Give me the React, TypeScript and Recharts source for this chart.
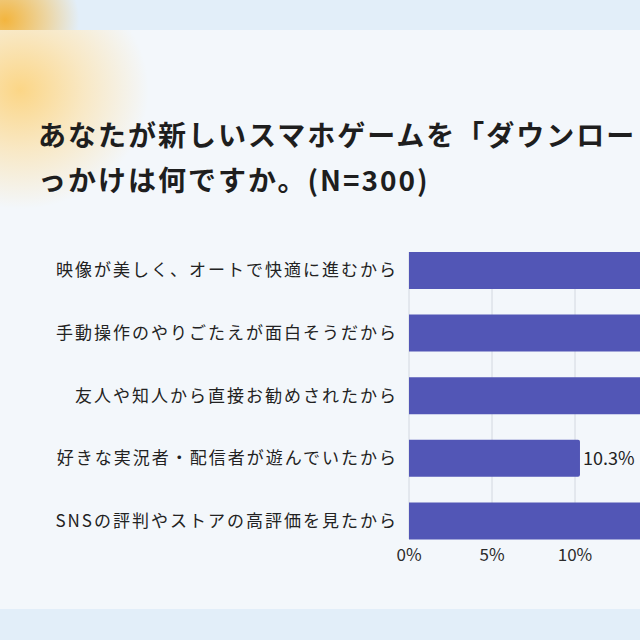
import { Bar, BarChart, CartesianGrid, LabelList, XAxis, YAxis } from 'recharts';

const categories = [
	'映像が美しく、オートで快適に進むから',
	'手動操作のやりごたえが面白そうだから',
	'友人や知人から直接お勧めされたから',
	'好きな実況者・配信者が遊んでいたから',
	'SNSの評判やストアの高評価を見たから',
];

// only the 10.3% label is visible in the picture, the rest run off the right edge
const shares = [34.7, 26.0, 19.3, 10.3, 16.3];

const xTicks = [0, 5, 10, 15, 20, 25, 30, 35, 40];

const TITLE_LINE_1 = 'あなたが新しいスマホゲームを「ダウンロードしよう」と思ったき';
const TITLE_LINE_2 = 'っかけは何ですか。(N=300)';

const FONT = '"Noto Sans CJK JP", "Noto Sans", sans-serif';

const data = categories.map((name, i) => ({ name, value: shares[i] }));

const XTick = ({ x, y, payload }: any) => (
	<text
		x={x}
		y={y + 9}
		textAnchor='middle'
		fill='#2b2b2b'
		fontSize={17}
		fontFamily={FONT}
	>
		{`${payload.value}%`}
	</text>
);

const App = () => {
	return (
		<div
			style={{
				position: 'fixed',
				left: 0,
				top: 0,
				width: 640,
				height: 640,
				overflow: 'hidden',
				background: '#e2eef9',
				fontFamily: FONT,
			}}
		>
			{/* orange glow in the top band */}
			<div
				style={{
					position: 'absolute',
					left: -70,
					top: -50,
					width: 150,
					height: 140,
					background:
						'radial-gradient(ellipse at center, rgba(244,178,52,0.95) 0%, rgba(246,190,80,0.5) 40%, rgba(246,200,100,0) 70%)',
				}}
			/>
			{/* card */}
			<div
				style={{
					position: 'absolute',
					left: 0,
					top: 30,
					width: 640,
					height: 579,
					background: '#f3f7fb',
					overflow: 'hidden',
				}}
			>
				<div
					style={{
						position: 'absolute',
						left: -110,
						top: -60,
						width: 260,
						height: 240,
						background:
							'radial-gradient(ellipse at center, rgba(252,212,128,0.95) 0%, rgba(252,222,160,0.6) 35%, rgba(250,236,210,0) 70%)',
					}}
				/>
			</div>
			<div
				style={{
					position: 'absolute',
					left: 38,
					top: 112,
					fontSize: 28,
					fontWeight: 700,
					letterSpacing: 2,
					lineHeight: '45px',
					color: '#1e1e1e',
					whiteSpace: 'nowrap',
				}}
			>
				<div>{TITLE_LINE_1}</div>
				<div>{TITLE_LINE_2}</div>
			</div>
			<div style={{ position: 'absolute', left: 0, top: 0 }}>
				<BarChart
					width={1113}
					height={640}
					layout='vertical'
					data={data}
					margin={{ top: 239, right: 40, left: 0, bottom: 58 }}
				>
					<CartesianGrid
						horizontal={false}
						vertical
						stroke='#d3d8e0'
						y={252}
						height={287}
					/>
					<XAxis
						type='number'
						domain={[0, 40]}
						ticks={xTicks}
						axisLine={false}
						tickLine={false}
						tickSize={0}
						tickMargin={0}
						height={30}
						tick={<XTick />}
					/>
					<YAxis
						type='category'
						dataKey='name'
						width={409}
						axisLine={false}
						tickLine={false}
						tickMargin={5}
						tick={{
							fill: '#222',
							fontSize: 17,
							fontFamily: FONT,
							letterSpacing: 2,
						}}
					/>
					<Bar
						dataKey='value'
						fill='#5256b6'
						barSize={37}
						radius={[0, 2, 2, 0]}
						isAnimationActive={false}
					>
						<LabelList
							dataKey='value'
							position='right'
							offset={3}
							fill='#222'
							fontSize={18}
							fontFamily={FONT}
							formatter={(v: any) => `${Number(v).toFixed(1)}%`}
						/>
					</Bar>
				</BarChart>
			</div>
		</div>
	);
};

export default App;
